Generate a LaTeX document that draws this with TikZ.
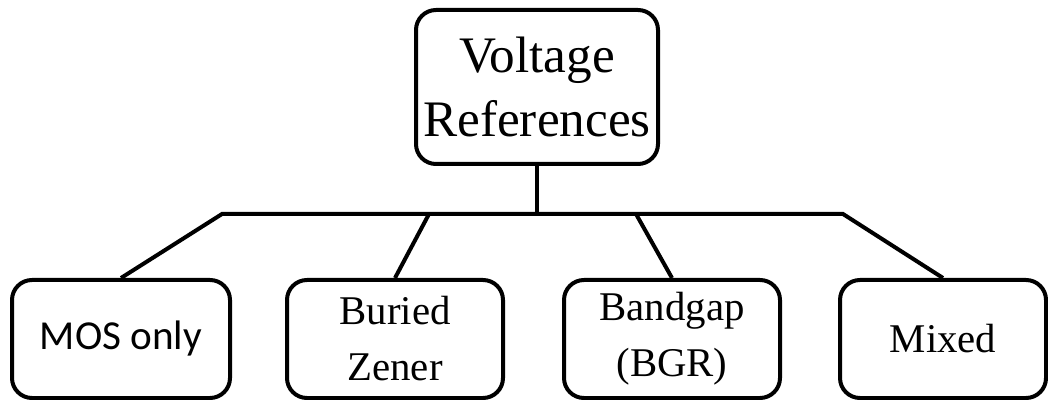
\documentclass[tikz,border=0pt]{standalone}
\usepackage{fontspec}
\setmainfont{Liberation Serif}
\newfontfamily\calibrifont{Carlito}
\usepackage{tikz}
\usetikzlibrary{positioning}

\tikzset{
  refbox/.style={draw, line width=2pt, rounded corners=10pt, align=center, inner sep=0pt},
  bus/.style={line width=2pt}
}

\begin{document}
\begin{tikzpicture}[x=0.5pt, y=-0.5pt]
          \useasboundingbox (0,0) rectangle (1048,400);
          \node[refbox, minimum width=121pt, minimum height=77pt, font=\fontsize{25.6}{32}\selectfont] (vref) at (537,87) {Voltage\\References};
          
          \node[refbox, minimum width=109pt, minimum height=59pt, font=\calibrifont\fontsize{20.6}{24}\selectfont] (mos) at (121,339) {MOS only};
          \node[refbox, minimum width=108pt, minimum height=59pt, font=\fontsize{20.4}{28}\selectfont] (buried) at (395,339) {Buried\\Zener};
          \node[refbox, minimum width=108pt, minimum height=59pt, font=\fontsize{20.4}{28}\selectfont] (bandgap) at (672,339) {Bandgap\\(BGR)};
          \node[refbox, minimum width=103pt, minimum height=59pt, font=\fontsize{20.4}{24}\selectfont] (mixed) at (943,339) {Mixed};
          
          % bus line
          \coordinate (busL) at (222,214);
          \coordinate (busR) at (843,214);
          \coordinate (bz) at (429,214);
          \coordinate (bg) at (636,214);
          
          \draw[bus] (vref.south) -- (vref.south |- busL);
          \draw[bus] (mos.north) -- (busL) -- (busR) -- (mixed.north);
          \draw[bus] (bz) -- (buried.north);
          \draw[bus] (bg) -- (bandgap.north);
    \end{tikzpicture}
\end{document}
